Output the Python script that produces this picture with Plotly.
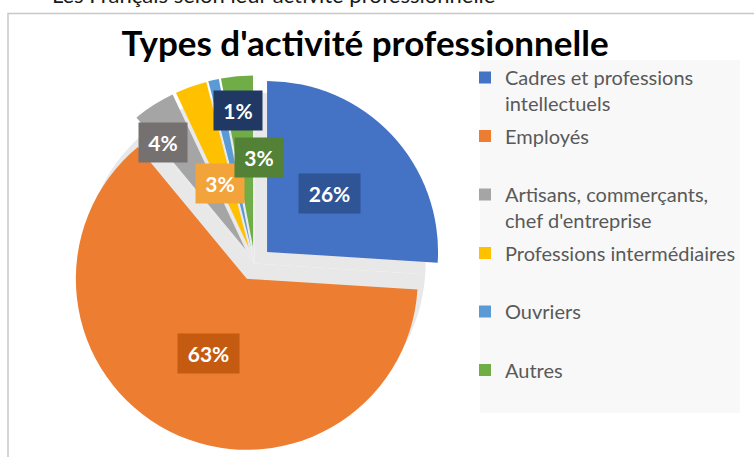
import math
import plotly.graph_objects as go

# ---------------- data ----------------
categories = [
    "Cadres et professions intellectuels",
    "Employés",
    "Artisans, commerçants, chef d'entreprise",
    "Professions intermédiaires",
    "Ouvriers",
    "Autres",
]
legend_labels = [
    "Cadres et professions<br>intellectuels",
    "Employés<br> ",
    "Artisans, commerçants,<br>chef d'entreprise",
    "Professions intermédiaires<br> ",
    "Ouvriers<br> ",
    "Autres<br> ",
]
values = [26, 63, 4, 3, 1, 3]
title_text = "Types d'activité professionnelle"
cut_text = "Les Français selon leur activité professionnelle"

# ---------------- styles ----------------
slice_colors = ["#4472C4", "#ED7D31", "#A5A5A5", "#FFC000", "#5B9BD5", "#70AD47"]
label_box_colors = ["#2F5597", "#C55A11", "#767171", "#F2A33A", "#203864", "#538135"]
shadow_color = "#E8E8E8"
# label placement: (radial fraction of radius from pie centre, angle offset in degrees)
label_place = [(0.60, 0), (0.59, 0), (0.89, -4.7), (0.51, -3.4), (0.90, 6.4), (0.62, 8.0)]
label_box_w = [47, 47, 34, 34, 34, 34]

W, H = 754, 457
PULL = 0.10
dom_x = [0.0882, 0.5871]
dom_y = [0.0116, 0.8348]

cx = (dom_x[0] + dom_x[1]) / 2 * W
cy = (1 - (dom_y[0] + dom_y[1]) / 2) * H
r = min((dom_x[1] - dom_x[0]) * W, (dom_y[1] - dom_y[0]) * H) / 2 / (1 + PULL)

fig = go.Figure()

# soft "shadow" under the exploded pie (unexploded disc)
fig.add_trace(go.Pie(
    labels=categories,
    values=values,
    sort=False,
    direction="clockwise",
    rotation=0,
    marker=dict(colors=[shadow_color] * len(values), line=dict(width=0)),
    textinfo="none",
    showlegend=False,
    hoverinfo="skip",
    domain=dict(x=[(cx - r) / W, (cx + r) / W], y=[1 - (cy + r) / H, 1 - (cy - r) / H]),
))

fig.add_trace(go.Pie(
    labels=categories,
    values=values,
    sort=False,
    direction="clockwise",
    rotation=0,
    pull=[PULL] * len(values),
    marker=dict(colors=slice_colors, line=dict(width=0)),
    textinfo="none",
    showlegend=False,
    domain=dict(x=dom_x, y=dom_y),
    hovertemplate="%{label}: %{percent}<extra></extra>",
))

# legend entries (square swatches)
for i, (lab, col) in enumerate(zip(legend_labels, slice_colors)):
    fig.add_trace(go.Scatter(
        x=[None], y=[None], mode="markers",
        marker=dict(symbol="square", size=12, color=col),
        name=lab, legendgroup=f"g{i}", showlegend=True,
    ))

# ---------------- data labels ----------------
total = sum(values)
cum = 0
annotations = []
for v, col, (frac, off), bw in zip(values, label_box_colors, label_place, label_box_w):
    mid = (cum + v / 2) / total * 360 + off
    cum += v
    px = cx + frac * r * math.sin(math.radians(mid))
    py = cy - frac * r * math.cos(math.radians(mid))
    annotations.append(dict(
        x=px / W, y=1 - py / H, xref="paper", yref="paper",
        text=f"<b>{round(v / total * 100)}%</b>", showarrow=False,
        font=dict(family="Lato", size=21, color="white"),
        bgcolor=col, borderpad=7, width=bw, height=25,
        xanchor="center", yanchor="middle",
    ))

# cut-off text from the page above the chart
annotations.append(dict(
    x=50 / W, y=1 - 10 / H, xref="paper", yref="paper", xanchor="left", yanchor="bottom",
    text=cut_text, showarrow=False, font=dict(family="Lato", size=22, color="#1a1a1a"),
))

fig.update_layout(
    width=W, height=H,
    margin=dict(l=0, r=0, t=0, b=0),
    paper_bgcolor="white", plot_bgcolor="white",
    xaxis=dict(visible=False), yaxis=dict(visible=False),
    title=dict(text=f"<b>{title_text}</b>", x=365 / W, xanchor="center",
               y=1 - 44 / H, yanchor="middle",
               font=dict(family="Lato", size=35, color="black")),
    legend=dict(
        x=465 / W, xanchor="left", y=1 - 58 / H, yanchor="top",
        bgcolor="rgba(0,0,0,0)", font=dict(family="Lato", size=20, color="#595959"),
        traceorder="grouped", tracegroupgap=3.5, valign="top",
    ),
    annotations=annotations,
    shapes=[
        dict(type="rect", xref="paper", yref="paper", x0=8 / W, x1=1.05, y0=-0.05, y1=1 - 13.5 / H,
             line=dict(color="#C8C8C8", width=1.5), fillcolor="rgba(0,0,0,0)", layer="below"),
        dict(type="rect", xref="paper", yref="paper", x0=480 / W, x1=740 / W, y0=1 - 413 / H, y1=1 - 60 / H,
             line=dict(width=0), fillcolor="#F8F8F8", layer="below"),
    ],
)

fig.write_html(
    "out.html",
    config={"displayModeBar": False},
    post_script="document.body.style.margin='0';document.body.style.overflow='hidden';",
)
